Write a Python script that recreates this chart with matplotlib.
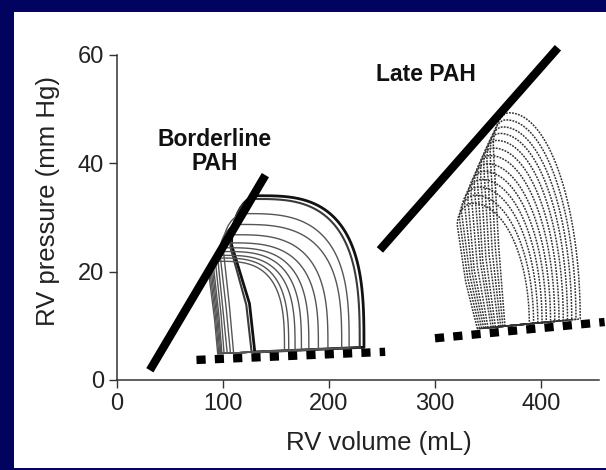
import numpy as np
import matplotlib
matplotlib.use("Agg")
import matplotlib.pyplot as plt
import matplotlib.patches as patches

plt.rcParams['font.family'] = ['Liberation Sans', 'DejaVu Sans']

# end-systolic (ESPVR) and end-diastolic (EDPVR) lines, (volume, pressure) end points
border_espvr_v = [31, 140]
border_espvr_p = [1.8, 37.8]
border_edpvr_v = [75, 253]
border_edpvr_p = [3.7, 5.2]
late_espvr_v = [248, 416]
late_espvr_p = [24.0, 61.3]
late_edpvr_v = [300, 460]
late_edpvr_p = [7.7, 10.7]

# borderline PAH loops, outermost first
border_ved = [233, 229, 219, 212, 199, 190, 181, 174, 168, 162, 158]      # end-diastolic volume
border_ves = [133, 130, 121, 116, 111, 107, 104, 102, 100, 98, 97]        # volume at peak
border_ptop = [34.0, 33.4, 30.7, 28.7, 26.8, 25.3, 24.4, 23.7, 23.0, 22.5, 21.9]
border_vsh = [108, 107, 100, 97, 95, 93, 91, 90, 89, 88, 87]               # left shoulder volume
border_psh = [25.0, 24.5, 24.5, 23.5, 22.5, 21.5, 21.0, 20.5, 20.0, 19.5, 19.0]
border_vmid = [125, 122, 106, 103, 100, 98, 96, 95, 94, 93, 92]           # left side, half way
border_vlb = [130, 127, 110, 107, 104, 101, 99, 98, 97, 96, 95]           # left side, bottom

# late PAH loops, outermost first
late_ved = [437, 433, 429, 425, 421, 417, 413, 409, 405, 401, 397, 393, 389]
late_ves = [370, 367, 364, 361, 358, 355, 352, 349, 346, 344, 341, 338, 336]
late_ptop = [49.3, 48.0, 46.7, 45.5, 44.2, 42.8, 41.4, 39.9, 38.5, 37.0, 35.6, 34.1, 32.6]
late_vsh = [355, 352, 349, 346, 343, 340, 337, 334, 331, 328, 325, 323, 321]
late_psh = [43.0, 41.8, 40.6, 39.4, 38.2, 37.0, 35.8, 34.6, 33.4, 32.2, 31.0, 29.8, 28.6]
late_vmid = [360, 357, 354, 351, 348, 345, 343, 340, 337, 335, 333, 331, 329]
late_vlb = [366, 364, 362, 360, 357, 355, 353, 350, 348, 346, 344, 342, 340]

x_ticks = [0, 100, 200, 300, 400]
y_ticks = [0, 20, 40, 60]


def loop_outline(ved, ves, ptop, vsh, psh, vmid, vlb, edv, edp, n):
    # bottom sits just above the dotted EDPVR line
    ped_r = np.interp(ved, edv, edp) + 1.0
    ped_l = np.interp(vlb, edv, edp) + 1.0
    # left side up to the shoulder
    xs = [vlb, vmid]
    ys = [ped_l, ped_l + 0.45 * (psh - ped_l)]
    # shoulder round to the peak
    th = np.linspace(0, np.pi / 2, 12)
    xs += list(ves - (ves - vsh) * np.cos(th))
    ys += list(psh + (ptop - psh) * np.sin(th))
    # peak down the right side
    th = np.linspace(0, np.pi / 2, 40)
    xs += list(ves + (ved - ves) * np.sin(th) ** (2 / n))
    ys += list(ped_r + (ptop - ped_r) * np.cos(th) ** (2 / n))
    xs.append(vlb)
    ys.append(ped_l)
    return xs, ys


fig = plt.figure(figsize=(6.06, 4.70), dpi=100, facecolor='#02025f')
fig.patches.append(patches.Rectangle((14 / 606, 2 / 470), 1, 1 - 14 / 470,
                                     transform=fig.transFigure, facecolor='white',
                                     edgecolor='none', zorder=-5))

ax = fig.add_axes([117 / 606, 90 / 470, 482.3 / 606, 325.2 / 470])
ax.set_facecolor('none')
ax.set_xlim(0, 455)
ax.set_ylim(0, 60)

# borderline loops
for i in range(len(border_ved)):
    xs, ys = loop_outline(border_ved[i], border_ves[i], border_ptop[i], border_vsh[i],
                          border_psh[i], border_vmid[i], border_vlb[i],
                          border_edpvr_v, border_edpvr_p, 3.0)
    if i == 0:
        ax.plot(xs, ys, color='#111111', lw=2.0)
    elif i == 1:
        ax.plot(xs, ys, color='#3a3a3a', lw=1.5)
    else:
        ax.plot(xs, ys, color='#555555', lw=1.0)

# late loops, dotted
for i in range(len(late_ved)):
    xs, ys = loop_outline(late_ved[i], late_ves[i], late_ptop[i], late_vsh[i],
                          late_psh[i], late_vmid[i], late_vlb[i],
                          late_edpvr_v, late_edpvr_p, 2.0)
    ax.plot(xs, ys, color='#333333', lw=1.1, ls=(0, (1.2, 0.8)))

# pressure-volume relations
ax.plot(border_espvr_v, border_espvr_p, color='black', lw=6, solid_capstyle='butt', clip_on=False)
ax.plot(late_espvr_v, late_espvr_p, color='black', lw=6, solid_capstyle='butt', clip_on=False)
ax.plot(border_edpvr_v, border_edpvr_p, color='black', lw=6, ls=(0, (1.1, 1.1)), clip_on=False)
ax.plot(late_edpvr_v, late_edpvr_p, color='black', lw=6, ls=(0, (1.1, 1.1)), clip_on=False)

ax.text(92.5, 42.1, 'Borderline\nPAH', ha='center', va='center', fontsize=16.5,
        fontweight='bold', linespacing=1.05, color='#111111')
ax.text(291, 56.3, 'Late PAH', ha='center', va='center', fontsize=16.5,
        fontweight='bold', color='#111111')

# axes
for side in ['top', 'right']:
    ax.spines[side].set_visible(False)
for side in ['left', 'bottom']:
    ax.spines[side].set_linewidth(1.1)
    ax.spines[side].set_color('#333333')
ax.set_xticks(x_ticks)
ax.set_yticks(y_ticks)
ax.tick_params(direction='out', length=5.5, width=1.0, color='#333333',
               labelsize=17, labelcolor='#222222')
ax.tick_params(axis='x', pad=4)
ax.tick_params(axis='y', pad=4)

ax.set_xlabel('RV volume (mL)', fontsize=18.5, color='#222222', va='center')
ax.xaxis.set_label_coords(0.543, -0.194)
ax.set_ylabel('RV pressure (mm Hg)', fontsize=18.5, color='#222222', va='center')
ax.yaxis.set_label_coords(-0.143, 0.550)

fig.savefig('out.png', dpi=100, facecolor=fig.get_facecolor())
